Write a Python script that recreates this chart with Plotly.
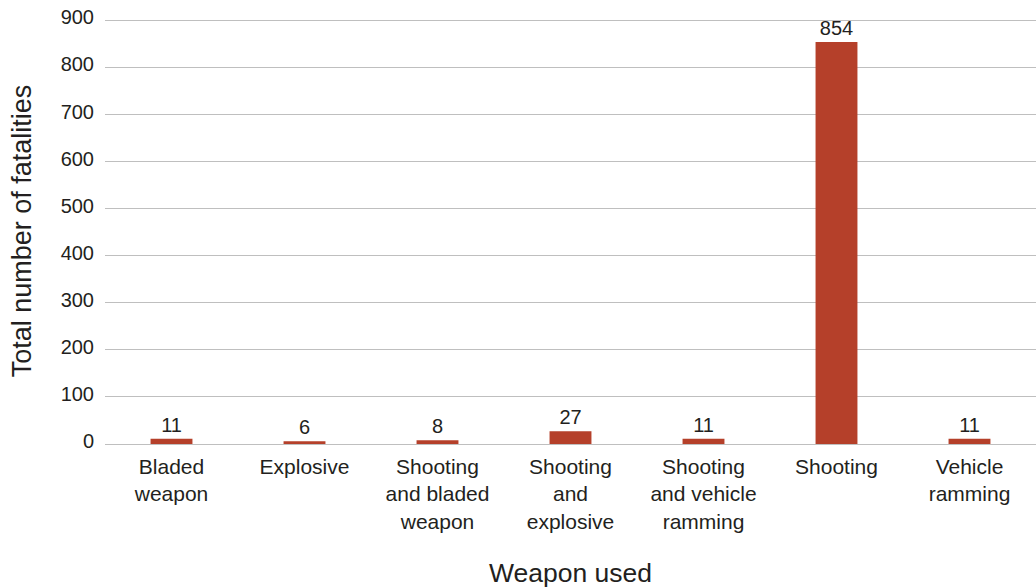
import plotly.graph_objects as go

categories = ["Bladed<br>weapon", "Explosive", "Shooting<br>and bladed<br>weapon",
              "Shooting<br>and<br>explosive", "Shooting<br>and vehicle<br>ramming",
              "Shooting", "Vehicle<br>ramming"]
fatalities = [11, 6, 8, 27, 11, 854, 11]
y_ticks = [0, 100, 200, 300, 400, 500, 600, 700, 800, 900]

font_family = "Liberation Sans, Arial, Helvetica, sans-serif"
text_color = "#231F20"

fig = go.Figure(go.Bar(
    x=categories, y=fatalities,
    marker=dict(color="#B5402A", line=dict(width=0)),
    width=0.315,
    text=[str(v) for v in fatalities],
    textposition="outside",
    textfont=dict(size=20, color=text_color, family=font_family),
    cliponaxis=False,
))

fig.update_layout(
    width=1036, height=588,
    margin=dict(l=105, r=0, t=18, b=144),
    paper_bgcolor="white", plot_bgcolor="white",
    font=dict(family=font_family, color=text_color, size=20),
    showlegend=False,
)
fig.update_xaxes(
    title=dict(text="Weapon used", font=dict(size=26.5), standoff=33),
    showgrid=False, showline=False, ticks="", tickfont=dict(size=21),
    ticklabelstandoff=8,
)
fig.update_yaxes(
    title=dict(text="Total number of fatalities", font=dict(size=27), standoff=21),
    range=[0, 905], tickvals=y_ticks, showgrid=True, gridcolor="#BFBFBF", gridwidth=1,
    zeroline=True, zerolinecolor="#BFBFBF", zerolinewidth=1,
    ticks="", ticklabelstandoff=10, ticklabelshift=-3, tickfont=dict(size=20),
)

fig.write_html("out.html")
